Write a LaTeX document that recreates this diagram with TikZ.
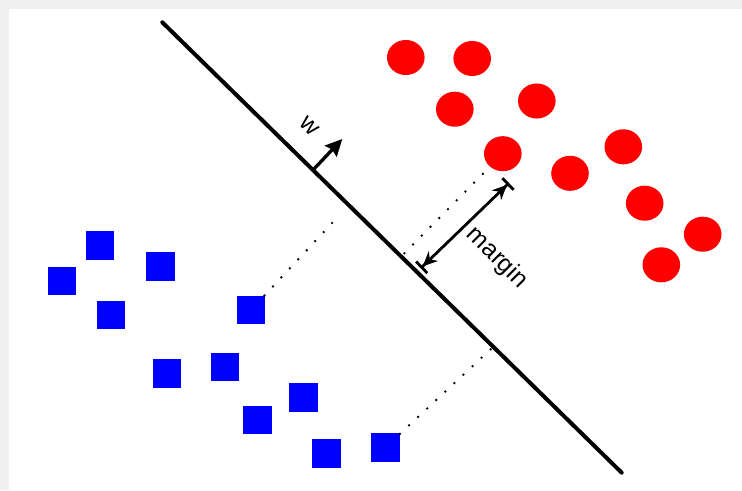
\documentclass[tikz,border=0pt]{standalone}
\usepackage{fontspec}
\setmainfont{Liberation Sans}
\usetikzlibrary{arrows.meta, shapes.geometric}

\begin{document}
\begin{tikzpicture}[
    x=0.75pt, y=-0.75pt,
    redpt/.style={ellipse, fill=red, minimum width=28.2pt, minimum height=26.3pt, inner sep=0pt},
    bluept/.style={rectangle, fill=blue, minimum size=21.3pt, inner sep=0pt},
    hyper/.style={line width=3pt, line cap=round},
    vec/.style={-{Stealth[length=12.5pt, width=12pt, inset=1.5pt]}, line width=2.5pt},
    marg/.style={{Bar[width=12pt]Stealth[length=11pt, width=10pt]}-{Stealth[length=11pt, width=10pt]Bar[width=12pt]}, line width=2.1pt},
    dotline/.style={line width=2pt, line cap=round, dash pattern=on 0pt off 9.3pt},
    lbl/.style={font=\fontsize{18.5}{22}\selectfont, inner sep=0pt}
]
    % Frame
    \fill[gray!12] (0,0) rectangle (742,490);
    \fill[white] (9,9) rectangle (742,490);
    \useasboundingbox (0,0) rectangle (742,490);

    % === Separating line ===
    \coordinate (h1) at (162.3,22.3);
    \coordinate (h2) at (621.7,472.7);
    \draw[hyper] (h1) -- (h2);

    % Normal vector w
    \coordinate (w0) at (313,170);
    \coordinate (w1) at (342.3,139);
    \draw[vec] (w0) -- (w1);
    \node[lbl, rotate=-45] (wlbl) at (309,126) {w};

    % === Class +1 (circles) ===
    \node[redpt] (r1) at (405.8,57.5) {};
    \node[redpt] (r2) at (472.2,58.5) {};
    \node[redpt] (r3) at (454.8,109.2) {};
    \node[redpt] (r4) at (536.8,101) {};
    \node[redpt] (r5) at (502.8,153.7) {};
    \node[redpt] (r6) at (570,173.3) {};
    \node[redpt] (r7) at (623.3,146.8) {};
    \node[redpt] (r8) at (644.7,203.2) {};
    \node[redpt] (r9) at (702.7,234.2) {};
    \node[redpt] (r10) at (661.3,264.8) {};

    % === Class -1 (squares) ===
    \node[bluept] (b1) at (100,245.5) {};
    \node[bluept] (b2) at (61.7,280.7) {};
    \node[bluept] (b3) at (160.5,266.3) {};
    \node[bluept] (b4) at (110.8,315) {};
    \node[bluept] (b5) at (251,310) {};
    \node[bluept] (b6) at (167,373.3) {};
    \node[bluept] (b7) at (225.2,366.7) {};
    \node[bluept] (b8) at (303.3,397.3) {};
    \node[bluept] (b9) at (257.5,420.2) {};
    \node[bluept] (b10) at (326.3,453.5) {};
    \node[bluept] (b11) at (385.5,447.3) {};

    % === Distances to the line ===
    \coordinate (m1) at (340,214.5);
    \coordinate (m2) at (492,348);
    \coordinate (m3) at (403.3,254.3);
    \draw[dotline] (b5) -- (m1);
    \draw[dotline] (b11) -- (m2);
    \draw[dotline, shorten <=7.5pt] (r5) -- (m3);

    % Margin
    \coordinate (ma) at (420.7,268.3);
    \coordinate (mb) at (509,183);
    \draw[marg] (ma) -- (mb);
    \node[lbl, rotate=-45] (mlbl) at (497,258) {margin};

\end{tikzpicture}
\end{document}
